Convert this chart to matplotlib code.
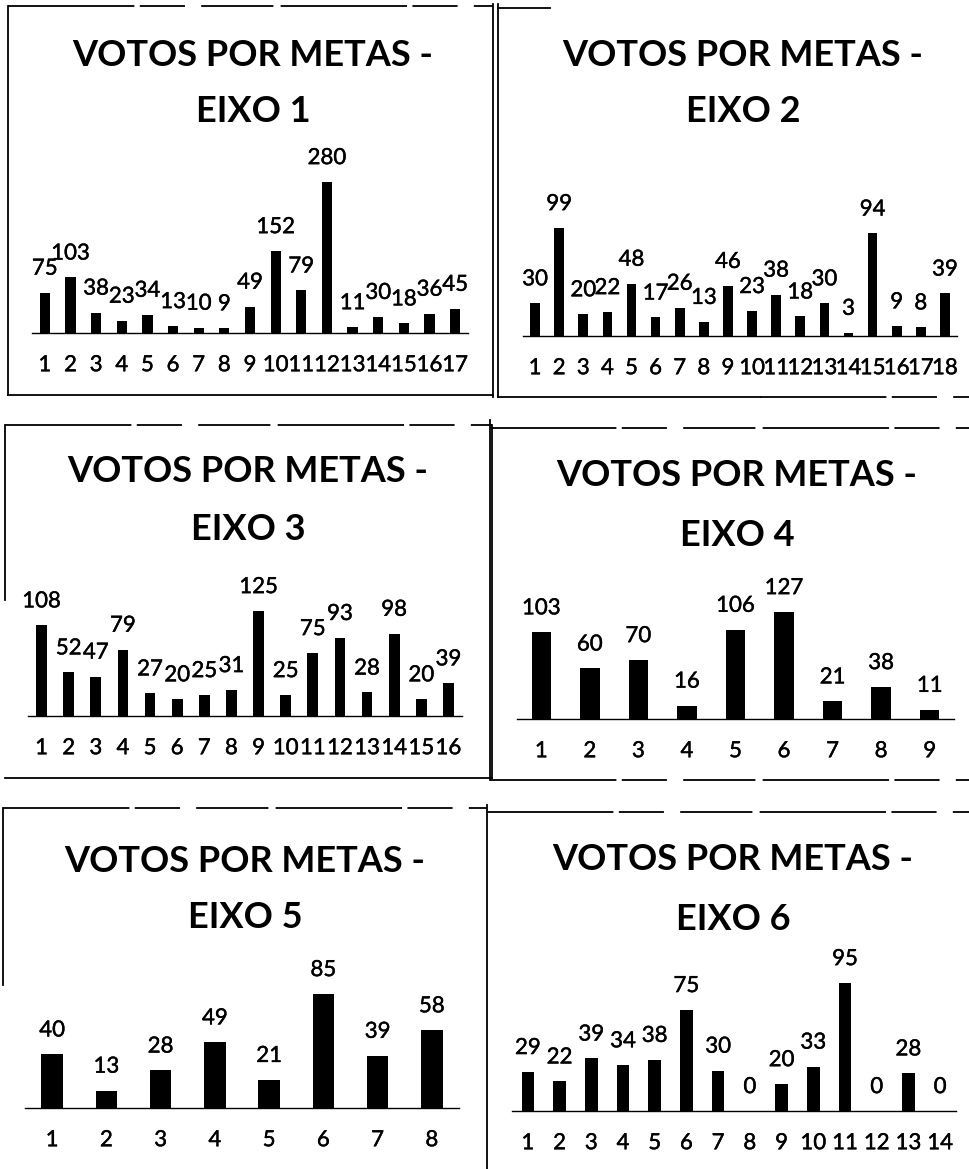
import matplotlib.pyplot as plt
import matplotlib.patheffects as pe
from matplotlib.lines import Line2D

W, H = 969, 1169

# votos por meta, um array por eixo
eixo1 = [75, 103, 38, 23, 34, 13, 10, 9, 49, 152, 79, 280, 11, 30, 18, 36, 45]
eixo2 = [30, 99, 20, 22, 48, 17, 26, 13, 46, 23, 38, 18, 30, 3, 94, 9, 8, 39]
eixo3 = [108, 52, 47, 79, 27, 20, 25, 31, 125, 25, 75, 93, 28, 98, 20, 39]
eixo4 = [103, 60, 70, 16, 106, 127, 21, 38, 11]
eixo5 = [40, 13, 28, 49, 21, 85, 39, 58]
eixo6 = [29, 22, 39, 34, 38, 75, 30, 0, 20, 33, 95, 0, 28, 0]

eixos = [eixo1, eixo2, eixo3, eixo4, eixo5, eixo6]
titulos = ["EIXO %d" % (i + 1) for i in range(6)]

# posicao de cada grafico em pixels: (esquerda, direita, base, topo, centro do titulo, linha1, linha2)
layout = [
    (32, 468, 333, 182, 253, 55, 112),
    (523, 957, 336, 228, 743, 55, 112),
    (28, 462, 716, 611, 248, 472, 529),
    (517, 954, 719, 612, 737, 476, 535),
    (25, 459, 1108, 994, 245, 862, 918),
    (512, 956, 1111, 983, 733, 859, 919),
]

# bordas das caixas (x0, y0, x1, y1, tracejado?)
bordas = [
    (8, 6, 8, 395, False), (8, 6, 493, 6, True), (493, 4, 493, 397, False), (8, 395, 493, 395, False),
    (498, 4, 498, 397, False), (498, 8, 550, 8, False), (498, 397, 760, 397, False), (760, 397, 969, 397, True),
    (5, 425, 5, 600, False), (5, 425, 492, 425, True), (492, 425, 492, 778, False), (5, 778, 492, 778, False),
    (490, 420, 490, 780, False), (490, 428, 969, 428, True), (490, 780, 969, 780, True),
    (3, 808, 3, 985, False), (3, 808, 487, 808, True), (487, 805, 487, 1169, False),
    (487, 812, 969, 812, True),
]

plt.rcParams['font.family'] = ['Lato', 'DejaVu Sans']

fig = plt.figure(figsize=(W / 100, H / 100), dpi=100)
fig.patch.set_facecolor('white')

# traço bem fino para encorpar um pouco os números
grosso = [pe.withStroke(linewidth=0.3, foreground='black')]


def fx(x):
    return x / W


def fy(y):
    return 1 - y / H


for x0, y0, x1, y1, tracejado in bordas:
    ls = (0, (70, 3, 25, 9, 40, 4)) if tracejado else '-'
    fig.add_artist(Line2D([fx(x0), fx(x1)], [fy(y0), fy(y1)], color='black', lw=1.3, linestyle=ls))

for valores, titulo, (esq, dir, base, topo, tx, t1, t2) in zip(eixos, titulos, layout):
    n = len(valores)
    ax = fig.add_axes([fx(esq), fy(base), (dir - esq) / W, (base - topo) / H])
    pos = list(range(1, n + 1))
    ax.bar(pos, valores, width=0.4, color='black')
    ax.set_xlim(0.5, n + 0.5)
    ax.set_ylim(0, max(valores))
    ax.set_xticks(pos)
    ax.set_xticklabels([str(p) for p in pos], fontsize=16)
    for lbl in ax.get_xticklabels():
        lbl.set_path_effects(grosso)
    ax.tick_params(axis='x', length=0, pad=16)
    ax.set_yticks([])
    for s in ['left', 'right', 'top']:
        ax.spines[s].set_visible(False)
    ax.spines['bottom'].set_linewidth(1.0)
    ax.patch.set_alpha(0)
    for p, v in zip(pos, valores):
        ax.annotate(str(v), (p, v), xytext=(0, 10), textcoords='offset points',
                    ha='center', va='bottom', fontsize=16, annotation_clip=False,
                    path_effects=grosso)
    fig.text(fx(tx), fy(t1), "VOTOS POR METAS -", ha='center', va='center',
             fontsize=26, fontweight='bold')
    fig.text(fx(tx), fy(t2), titulo, ha='center', va='center',
             fontsize=26, fontweight='bold')

fig.savefig('out.png', dpi=100)
